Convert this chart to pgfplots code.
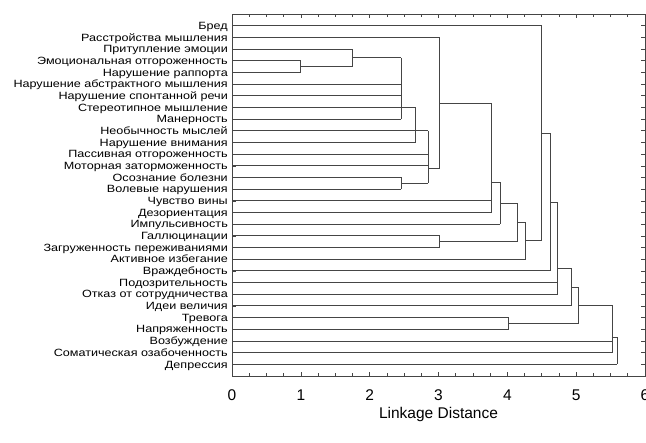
\documentclass[border=0pt]{standalone}
\usepackage{fontspec}
\setmainfont{Liberation Sans}
\newfontfamily\labelfont[FakeStretch=1.2]{Liberation Sans}
\usepackage{pgfplots}
\pgfplotsset{compat=1.18}
\definecolor{treeline}{HTML}{454545}

\begin{document}
\begin{tikzpicture}
\begin{axis}[
  at={(232bp,67bp)}, anchor=south west,
  scale only axis, width=413bp, height=362bp,
  xmin=0, xmax=6, ymin=0, ymax=31, y dir=reverse,
  xtick={0,...,6}, minor x tick num=3,
  ytick={1,...,30},
  yticklabels={Бред,Расстройства мышления,Притупление эмоции,Эмоциональная отгороженность,Нарушение раппорта,Нарушение абстрактного мышления,Нарушение спонтанной речи,Стереотипное мышление,Манерность,Необычность мыслей,Нарушение внимания,Пассивная отгороженность,Моторная заторможенность,Осознание болезни,Волевые нарушения,Чувство вины,Дезориентация,Импульсивность,Галлюцинации,Загруженность переживаниями,Активное избегание,Враждебность,Подозрительность,Отказ от сотрудничества,Идеи величия,Тревога,Напряженность,Возбуждение,Соматическая озабоченность,Депрессия},
  tick align=inside, major tick length=4bp, minor tick length=3bp,
  tick style={treeline, line width=0.6pt},
  axis line style={treeline, line width=0.9pt},
  unbounded coords=jump,
  yticklabel style={font=\labelfont\fontsize{10.5bp}{11bp}\selectfont, inner sep=0pt, anchor=base east, xshift=-4bp, yshift=-3.7bp},
  xticklabel style={font=\fontsize{15.5bp}{16bp}\selectfont, yshift=-10bp},
  xlabel={Linkage Distance},
  xlabel style={font=\fontsize{15.5bp}{16bp}\selectfont, yshift=0bp},
  /pgf/number format/assume math mode=true,
]
% leaves
\addplot[treeline, line width=0.9pt] coordinates {
(0,1)(4.50,1) (0,nan)
(0,2)(3.02,2) (0,nan)
(0,3)(1.75,3) (0,nan)
(0,4)(1.00,4) (0,nan)
(0,5)(1.00,5) (0,nan)
(0,6)(2.46,6) (0,nan)
(0,7)(2.46,7) (0,nan)
(0,8)(2.67,8) (0,nan)
(0,9)(2.46,9) (0,nan)
(0,10)(2.85,10) (0,nan)
(0,11)(2.67,11) (0,nan)
(0,12)(2.85,12) (0,nan)
(0,13)(2.85,13) (0,nan)
(0,14)(2.46,14) (0,nan)
(0,15)(2.46,15) (0,nan)
(0,16)(3.77,16) (0,nan)
(0,17)(3.77,17) (0,nan)
(0,18)(3.90,18) (0,nan)
(0,19)(3.02,19) (0,nan)
(0,20)(3.02,20) (0,nan)
(0,21)(4.27,21) (0,nan)
(0,22)(4.62,22) (0,nan)
(0,23)(4.73,23) (0,nan)
(0,24)(4.73,24) (0,nan)
(0,25)(4.93,25) (0,nan)
(0,26)(4.02,26) (0,nan)
(0,27)(4.02,27) (0,nan)
(0,28)(5.52,28) (0,nan)
(0,29)(5.52,29) (0,nan)
(0,30)(5.60,30)
};
% joins: vertical, then link to parent
\addplot[treeline, line width=0.9pt] coordinates {
(1.00,4)(1.00,5) (0,nan) (1.00,4.5)(1.75,4.5) (0,nan)
(1.75,3)(1.75,4.5) (0,nan) (1.75,3.75)(2.46,3.75) (0,nan)
(2.46,3.75)(2.46,9) (0,nan)
(2.67,8)(2.67,11) (0,nan)
(2.46,14)(2.46,15) (0,nan) (2.46,14.5)(2.85,14.5) (0,nan)
(2.85,10)(2.85,14.5) (0,nan) (2.85,13.25)(3.02,13.25) (0,nan)
(3.02,2)(3.02,13.25) (0,nan) (3.02,7.67)(3.77,7.67) (0,nan)
(3.77,7.67)(3.77,17) (0,nan) (3.77,14.4)(3.90,14.4) (0,nan)
(3.90,14.4)(3.90,18) (0,nan) (3.90,16.2)(4.15,16.2) (0,nan)
(3.02,19)(3.02,20) (0,nan) (3.02,19.5)(4.15,19.5) (0,nan)
(4.15,16.2)(4.15,19.5) (0,nan) (4.15,17.85)(4.27,17.85) (0,nan)
(4.27,17.85)(4.27,21) (0,nan) (4.27,19.4)(4.50,19.4) (0,nan)
(4.50,1)(4.50,19.4) (0,nan) (4.50,10.2)(4.62,10.2) (0,nan)
(4.62,10.2)(4.62,22) (0,nan) (4.62,16.1)(4.73,16.1) (0,nan)
(4.73,16.1)(4.73,24) (0,nan) (4.73,21.78)(4.93,21.78) (0,nan)
(4.93,21.78)(4.93,25) (0,nan) (4.93,23.4)(5.04,23.4) (0,nan)
(4.02,26)(4.02,27) (0,nan) (4.02,26.5)(5.04,26.5) (0,nan)
(5.04,23.4)(5.04,26.5) (0,nan) (5.04,24.95)(5.52,24.95) (0,nan)
(5.52,24.95)(5.52,29) (0,nan) (5.52,27.7)(5.60,27.7) (0,nan)
(5.60,27.7)(5.60,30)
};
\end{axis}
\pgfresetboundingbox
\path (0,0) rectangle (646bp,443bp);
\end{tikzpicture}
\end{document}
